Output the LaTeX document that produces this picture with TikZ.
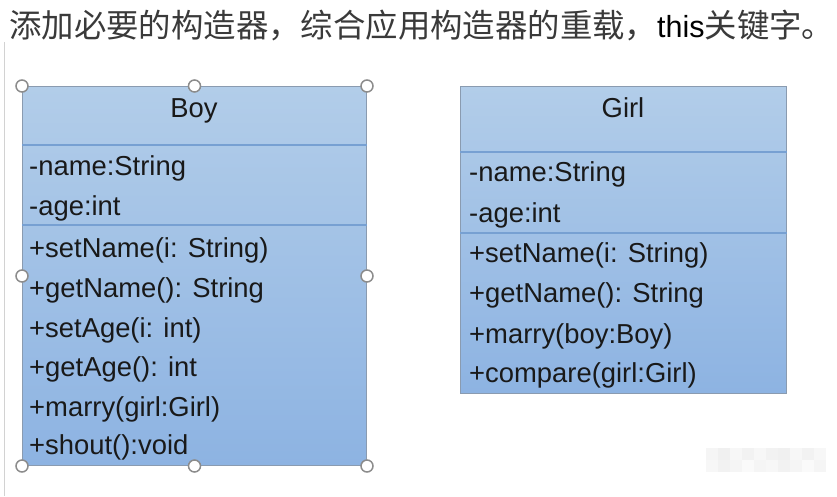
\documentclass[tikz,border=0pt]{standalone}
\usepackage{fontspec}
\setmainfont{Liberation Sans}
\newfontfamily\cjk{Noto Sans CJK SC}
\definecolor{boxtop}{HTML}{B2CDE9}
\definecolor{boxbot}{HTML}{8DB3E2}
\definecolor{boxline}{HTML}{8A9BB0}
\definecolor{sepline}{HTML}{77A0D2}
\definecolor{handle}{HTML}{8C8C8C}
\definecolor{titlegray}{HTML}{3A3A3A}
\begin{document}
\begin{tikzpicture}[x=1pt,y=-1pt,
  classbox/.style={draw=boxline, line width=1pt, top color=boxtop, bottom color=boxbot, rectangle, inner sep=0, anchor=north west},
  sep/.style={draw=sepline, line width=1.4pt},
  row/.style={anchor=base west, inner sep=0, font=\fontsize{27.4}{30}\selectfont, text=black!90},
  head/.style={anchor=base, inner sep=0, font=\fontsize{27.4}{30}\selectfont, text=black!90},
  handlept/.style={circle, draw=handle, fill=white, line width=1.5pt, minimum size=12pt, inner sep=0}]
\useasboundingbox (0,0) rectangle (837,496);
\fill[white] (0,0) rectangle (837,496);
% left page edge line
\coordinate (e1) at (4,42);
\coordinate (e2) at (4,496);
\draw[gray!35, line width=0.8pt] (e1) -- (e2);
% title
\node[anchor=base west, inner sep=0, text=titlegray, font=\cjk\fontsize{32.4}{34}\selectfont] (title) at (9,37)
  {添加必要的构造器，综合应用构造器的重载，{\fontspec{Liberation Sans}\fontsize{30.5}{34}\selectfont\color{black}this}关键字。};

% Boy class
\node[classbox, minimum width=344pt, minimum height=379pt] (boy) at (22,86) {};
\draw[sep] (boy.west |- 0,145) -- (boy.east |- 0,145);
\draw[sep] (boy.west |- 0,225) -- (boy.east |- 0,225);
\node[head] (boyname) at (194,117) {Boy};
\node[row] (b1) at (29,175) {-name:String};
\node[row] (b2) at (29,215) {-age:int};
\node[row] (b3) at (29,257) {+setName(i: String)};
\node[row] (b4) at (29,297) {+getName(): String};
\node[row] (b5) at (29,337) {+setAge(i: int)};
\node[row] (b6) at (29,376) {+getAge(): int};
\node[row] (b7) at (29,416) {+marry(girl:Girl)};
\node[row] (b8) at (29,454) {+shout():void};
% selection handles
\foreach \p in {north west, north, north east, west, east, south west, south, south east}
  \node[handlept] at (boy.\p) {};

% Girl class
\node[classbox, minimum width=326pt, minimum height=307pt] (girl) at (460,86) {};
\draw[sep] (girl.west |- 0,152) -- (girl.east |- 0,152);
\draw[sep] (girl.west |- 0,233) -- (girl.east |- 0,233);
\node[head] (girlname) at (623,117) {Girl};
\node[row] (g1) at (469,181) {-name:String};
\node[row] (g2) at (469,222) {-age:int};
\node[row] (g3) at (469,262) {+setName(i: String)};
\node[row] (g4) at (469,302) {+getName(): String};
\node[row] (g5) at (469,343) {+marry(boy:Boy)};
\node[row] (g6) at (469,382) {+compare(girl:Girl)};

% blurred watermark
\foreach \x/\c in {706/4,718/6,730/3,742/5,754/3,766/5,778/6,790/3,802/5,814/3}
  \fill[black!\c] (\x,448) rectangle ++(12,12);
\foreach \x/\c in {706/3,718/5,730/4,742/2,754/4,766/3,778/5,790/4,802/2,814/4}
  \fill[black!\c] (\x,460) rectangle ++(12,12);
\end{tikzpicture}
\end{document}
